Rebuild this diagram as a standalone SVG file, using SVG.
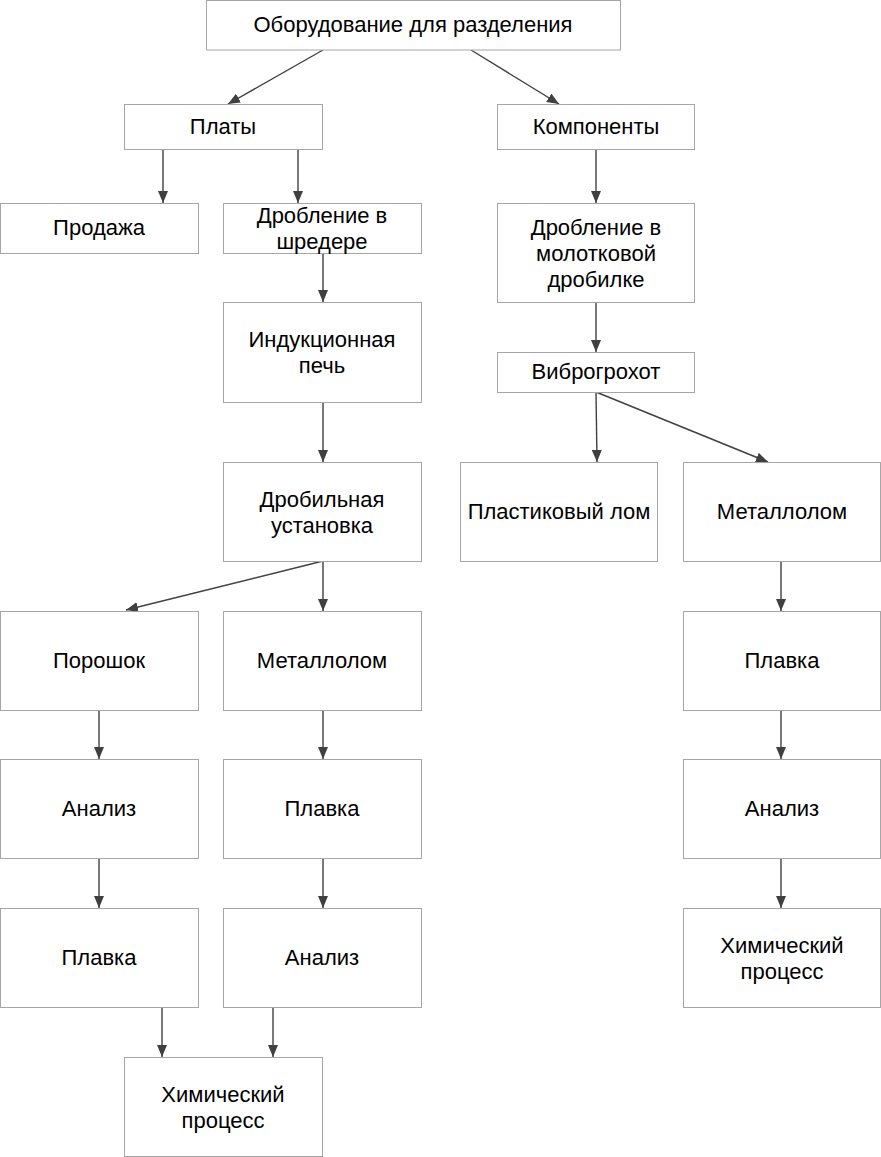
<svg xmlns="http://www.w3.org/2000/svg" width="881" height="1157" viewBox="0 0 881 1157">
<style>
.box{fill:#fff;stroke:#a6a6a6;stroke-width:1}
.t{font-family:"Liberation Sans",Arial,sans-serif;font-size:22px;fill:#000;text-anchor:middle}
.c{stroke:#404040;stroke-width:1.4;fill:none;marker-end:url(#ah)}
</style>
<defs>
<marker id="ah" viewBox="0 0 12 10" refX="12" refY="5" markerWidth="12" markerHeight="10" markerUnits="userSpaceOnUse" orient="auto">
<path d="M0,0 L12,5 L0,10 z" fill="#404040"/>
</marker>
</defs>
<rect width="881" height="1157" fill="#fff"/>
<g id="connectors">
<line class="c" x1="323" y1="50" x2="228" y2="104"/>
<line class="c" x1="471" y1="50" x2="559" y2="104"/>
<line class="c" x1="163" y1="149" x2="163" y2="203"/>
<line class="c" x1="298" y1="149" x2="298" y2="203"/>
<line class="c" x1="596" y1="149" x2="596" y2="203"/>
<line class="c" x1="323" y1="253" x2="323" y2="302"/>
<line class="c" x1="323" y1="402" x2="323" y2="462"/>
<line class="c" x1="596" y1="302" x2="596" y2="352"/>
<line class="c" x1="596" y1="392" x2="597" y2="462"/>
<line class="c" x1="596" y1="392" x2="768" y2="462"/>
<line class="c" x1="323" y1="561" x2="323" y2="611"/>
<line class="c" x1="323" y1="561" x2="126" y2="610"/>
<line class="c" x1="781" y1="561" x2="781" y2="611"/>
<line class="c" x1="99" y1="710" x2="99" y2="759"/>
<line class="c" x1="323" y1="710" x2="323" y2="759"/>
<line class="c" x1="781" y1="710" x2="781" y2="759"/>
<line class="c" x1="99" y1="858" x2="99" y2="908"/>
<line class="c" x1="323" y1="858" x2="323" y2="908"/>
<line class="c" x1="781" y1="858" x2="781" y2="908"/>
<line class="c" x1="162" y1="1007" x2="162" y2="1057"/>
<line class="c" x1="273" y1="1007" x2="273" y2="1057"/>
</g>
<g id="n_top"><rect class="box" x="206.5" y="0.5" width="414" height="49.5"/><text class="t" x="413" y="32">Оборудование для разделения</text></g>
<g id="n_platy"><rect class="box" x="124.5" y="104.5" width="198" height="45"/><text class="t" x="223" y="134">Платы</text></g>
<g id="n_komp"><rect class="box" x="497.5" y="104.5" width="197" height="45"/><text class="t" x="596" y="134">Компоненты</text></g>
<g id="n_prodazha"><rect class="box" x="0.5" y="203.5" width="198" height="50"/><text class="t" x="99" y="235">Продажа</text></g>
<g id="n_shreder"><rect class="box" x="223.5" y="203.5" width="198" height="50"/><text class="t"><tspan x="322" y="223">Дробление в</tspan><tspan x="322" y="249">шредере</tspan></text></g>
<g id="n_molot"><rect class="box" x="497.5" y="203.5" width="197" height="99"/><text class="t"><tspan x="596" y="235">Дробление в</tspan><tspan x="596" y="261">молотковой</tspan><tspan x="596" y="287">дробилке</tspan></text></g>
<g id="n_induk"><rect class="box" x="223.5" y="302.5" width="198" height="100"/><text class="t"><tspan x="322" y="347">Индукционная</tspan><tspan x="322" y="373">печь</tspan></text></g>
<g id="n_vibro"><rect class="box" x="497.5" y="352.5" width="197" height="40"/><text class="t" x="596" y="379">Виброгрохот</text></g>
<g id="n_drobil"><rect class="box" x="223.5" y="462.5" width="198" height="99"/><text class="t"><tspan x="322" y="507">Дробильная</tspan><tspan x="322" y="533">установка</tspan></text></g>
<g id="n_plast"><rect class="box" x="460.5" y="462.5" width="197" height="99"/><text class="t" x="559" y="519">Пластиковый лом</text></g>
<g id="n_metal_r"><rect class="box" x="683.5" y="462.5" width="197" height="99"/><text class="t" x="782" y="519">Металлолом</text></g>
<g id="n_poroshok"><rect class="box" x="0.5" y="611.5" width="198" height="99"/><text class="t" x="99" y="668">Порошок</text></g>
<g id="n_metal_m"><rect class="box" x="223.5" y="611.5" width="198" height="99"/><text class="t" x="322" y="668">Металлолом</text></g>
<g id="n_plavka_r"><rect class="box" x="683.5" y="611.5" width="197" height="99"/><text class="t" x="782" y="668">Плавка</text></g>
<g id="n_analiz_l"><rect class="box" x="0.5" y="759.5" width="198" height="99"/><text class="t" x="99" y="816">Анализ</text></g>
<g id="n_plavka_m"><rect class="box" x="223.5" y="759.5" width="198" height="99"/><text class="t" x="322" y="816">Плавка</text></g>
<g id="n_analiz_r"><rect class="box" x="683.5" y="759.5" width="197" height="99"/><text class="t" x="782" y="816">Анализ</text></g>
<g id="n_plavka_l"><rect class="box" x="0.5" y="908.5" width="198" height="99"/><text class="t" x="99" y="965">Плавка</text></g>
<g id="n_analiz_m"><rect class="box" x="223.5" y="908.5" width="198" height="99"/><text class="t" x="322" y="965">Анализ</text></g>
<g id="n_him_r"><rect class="box" x="683.5" y="908.5" width="197" height="99"/><text class="t"><tspan x="782" y="953">Химический</tspan><tspan x="782" y="979">процесс</tspan></text></g>
<g id="n_him_b"><rect class="box" x="124.5" y="1057.5" width="198" height="99"/><text class="t"><tspan x="223" y="1102">Химический</tspan><tspan x="223" y="1128">процесс</tspan></text></g>
</svg>
